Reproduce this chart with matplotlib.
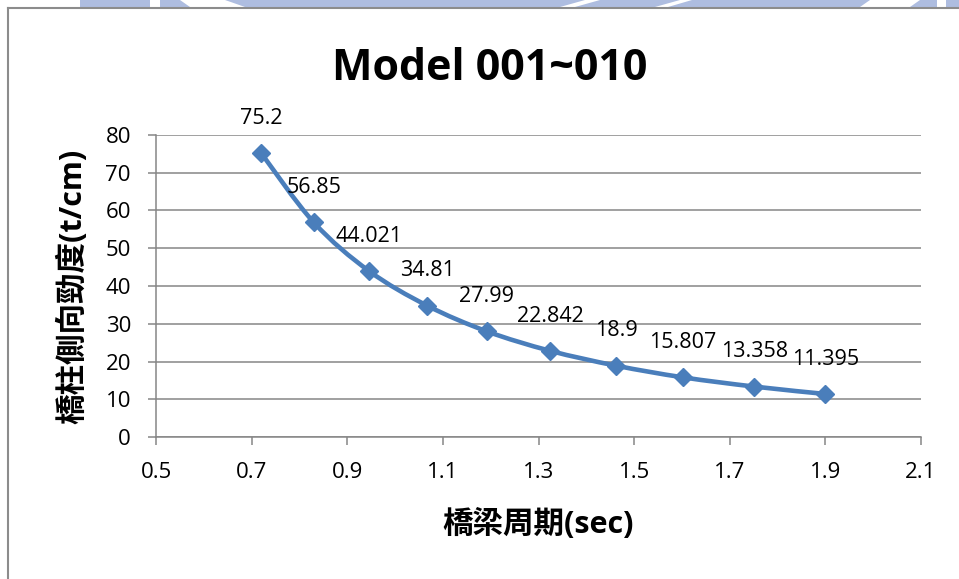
import matplotlib.pyplot as plt
from matplotlib.path import Path
from matplotlib.patches import PathPatch, Polygon, Rectangle
from matplotlib.lines import Line2D

plt.rcParams['font.family'] = ['Open Sans', 'Noto Sans CJK TC', 'DejaVu Sans']

# bridge period (sec) vs. column lateral stiffness (t/cm)
period = [0.72, 0.83, 0.945, 1.067, 1.192, 1.324, 1.462, 1.602, 1.751, 1.90]
stiffness = [75.2, 56.85, 44.021, 34.81, 27.99, 22.842, 18.9, 15.807, 13.358, 11.395]
labels = ['75.2', '56.85', '44.021', '34.81', '27.99', '22.842', '18.9', '15.807', '13.358', '11.395']

blue = '#4a7ebb'
grey = '#868686'

W, H = 959, 579
fig = plt.figure(figsize=(W / 100, H / 100), dpi=100)

# faint banner strip along the top edge
def px(x, y):
    return (x / W, 1 - y / H)

fig.add_artist(Rectangle(px(80, 7), 879 / W, 7 / H, transform=fig.transFigure,
                         color='#aebde0', lw=0))
for gap in [[(150, 0), (160, 0), (160, 7), (150, 7)],
            [(180, 0), (225, 0), (245, 7), (190, 7)],
            [(585, 0), (600, 0), (575, 7), (560, 7)],
            [(680, 0), (692, 0), (668, 7), (655, 7)],
            [(870, 0), (920, 0), (910, 7), (860, 7)],
            [(937, 0), (946, 0), (946, 7), (937, 7)]]:
    fig.add_artist(Polygon([px(x, y) for x, y in gap], closed=True,
                           transform=fig.transFigure, color='white', lw=0))

# chart frame
fig.add_artist(Line2D([8 / W, 1], [1 - 8 / H, 1 - 8 / H], transform=fig.transFigure,
                      color='#8c8c8c', lw=1.5))
fig.add_artist(Line2D([8 / W, 8 / W], [0, 1 - 8 / H], transform=fig.transFigure,
                      color='#8c8c8c', lw=1.5))

ax = fig.add_axes([156 / W, 1 - 437 / H, (921 - 156) / W, (437 - 135) / H])

# smoothed curve through the points (cubic bezier segments)
verts = [(period[0], stiffness[0])]
codes = [Path.MOVETO]
n = len(period)
for i in range(n - 1):
    x0, y0 = period[max(i - 1, 0)], stiffness[max(i - 1, 0)]
    x1, y1 = period[i], stiffness[i]
    x2, y2 = period[i + 1], stiffness[i + 1]
    x3, y3 = period[min(i + 2, n - 1)], stiffness[min(i + 2, n - 1)]
    c1 = (x1 + (x2 - x0) / 6, y1 + (y2 - y0) / 6)
    c2 = (x2 - (x3 - x1) / 6, y2 - (y3 - y1) / 6)
    verts += [c1, c2, (x2, y2)]
    codes += [Path.CURVE4] * 3
ax.add_patch(PathPatch(Path(verts, codes), fill=False, edgecolor=blue, lw=3.3,
                       capstyle='round', joinstyle='round', zorder=3))
ax.plot(period, stiffness, ls='none', marker='D', ms=9.5, color=blue, zorder=4)

for x, y, t in zip(period, stiffness, labels):
    ax.annotate(t, (x, y), xytext=(0, 25), textcoords='offset points',
                ha='center', va='center', fontsize=15.5, color='black')

ax.set_xlim(0.5, 2.1)
ax.set_ylim(0, 80)
ax.set_xticks([0.5, 0.7, 0.9, 1.1, 1.3, 1.5, 1.7, 1.9, 2.1])
ax.set_xticklabels(['0.5', '0.7', '0.9', '1.1', '1.3', '1.5', '1.7', '1.9', '2.1'])
ax.set_yticks(range(0, 81, 10))

ax.grid(axis='y', color=grey, lw=1.1)
ax.set_axisbelow(True)
ax.spines['top'].set_visible(False)
ax.spines['right'].set_visible(False)
ax.spines['left'].set_color(grey)
ax.spines['bottom'].set_color(grey)
ax.spines['left'].set_linewidth(1.1)
ax.spines['bottom'].set_linewidth(1.1)
ax.tick_params(axis='x', direction='out', length=6, width=1.1, color=grey,
               labelsize=16, pad=12)
ax.tick_params(axis='y', direction='out', length=6, width=1.1, color=grey,
               labelsize=16, pad=12)

ax.set_xlabel('橋梁周期(sec)', fontsize=22, fontweight='bold', labelpad=19)
ax.set_ylabel('橋柱側向勁度(t/cm)', fontsize=22, fontweight='bold', labelpad=12)

fig.text(490 / W, 1 - 68 / H, 'Model 001~010', ha='center', va='center',
         fontsize=31, fontweight='bold')

fig.savefig('out.png', dpi=100)
